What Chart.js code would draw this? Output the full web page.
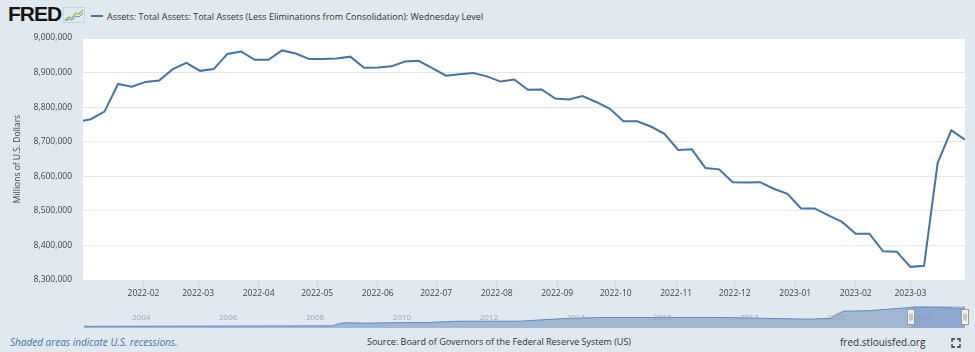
<!DOCTYPE html>
<html>
<head>
<meta charset="utf-8">
<script src="https://cdn.jsdelivr.net/npm/chart.js@4.4.1/dist/chart.umd.min.js"></script>
<style>
  html, body { margin: 0; padding: 0; background: #e1e9f0; }
  body { width: 975px; height: 352px; position: relative; overflow: hidden; font-family: "Open Sans", sans-serif; }
  #main { position: absolute; left: 0; top: 0; }
  #nav { position: absolute; left: 0; top: 300px; }
  .logo { position: absolute; left: 8px; top: 3px; font: bold 21px/21px "Liberation Sans", Arial, sans-serif; letter-spacing: -1px; color: #151515; }
  .logo-icon { position: absolute; left: 63px; top: 7px; }
  .legend { position: absolute; left: 91px; top: 9px; height: 14px; display: flex; align-items: center; font-size: 9px; color: #333; white-space: nowrap; }
  .legend i { display: inline-block; width: 12px; height: 2px; background: #4572a7; margin-right: 4px; }
  .foot { position: absolute; top: 335px; font-size: 9px; line-height: 14px; color: #333; white-space: nowrap; }
  .foot.left { left: 10px; font-size: 10px; font-style: italic; color: #4572a7; }
  .foot.mid { left: 367px; }
  .foot.right { left: 840px; font-size: 10px; }
  .fs { position: absolute; left: 951px; top: 338px; }
</style>
</head>
<body>
<div class="logo">FRED</div>
<svg class="logo-icon" width="22" height="16" viewBox="0 0 22 16">
  <rect x="0.5" y="0.5" width="21" height="15" fill="none" stroke="#c9d3dc"/>
  <polyline points="2,13 6,10 9,11 13,6 16,7 20,3" fill="none" stroke="#8cbf4d" stroke-width="1.3"/>
  <polyline points="2,14 6,12 9,13 13,9 16,10 20,6" fill="none" stroke="#6b8fc2" stroke-width="1"/>
</svg>
<div class="legend"><i></i>Assets: Total Assets: Total Assets (Less Eliminations from Consolidation): Wednesday Level</div>
<canvas id="main" width="975" height="300"></canvas>
<canvas id="nav" width="975" height="34"></canvas>
<div class="foot left">Shaded areas indicate U.S. recessions.</div>
<div class="foot mid">Source: Board of Governors of the Federal Reserve System (US)</div>
<div class="foot right">fred.stlouisfed.org</div>
<svg class="fs" width="10" height="10" viewBox="0 0 10 10">
  <path d="M1 4V1h3M6 1h3v3M9 6v3H6M4 9H1V6" fill="none" stroke="#333" stroke-width="1.3"/>
</svg>
<script>
// weekly values, millions of dollars
const dates = [
  "2021-12-29",
  "2022-01-05", "2022-01-12", "2022-01-19", "2022-01-26",
  "2022-02-02", "2022-02-09", "2022-02-16", "2022-02-23",
  "2022-03-02", "2022-03-09", "2022-03-16", "2022-03-23", "2022-03-30",
  "2022-04-06", "2022-04-13", "2022-04-20", "2022-04-27",
  "2022-05-04", "2022-05-11", "2022-05-18", "2022-05-25",
  "2022-06-01", "2022-06-08", "2022-06-15", "2022-06-22", "2022-06-29",
  "2022-07-06", "2022-07-13", "2022-07-20", "2022-07-27",
  "2022-08-03", "2022-08-10", "2022-08-17", "2022-08-24", "2022-08-31",
  "2022-09-07", "2022-09-14", "2022-09-21", "2022-09-28",
  "2022-10-05", "2022-10-12", "2022-10-19", "2022-10-26",
  "2022-11-02", "2022-11-09", "2022-11-16", "2022-11-23", "2022-11-30",
  "2022-12-07", "2022-12-14", "2022-12-21", "2022-12-28",
  "2023-01-04", "2023-01-11", "2023-01-18", "2023-01-25",
  "2023-02-01", "2023-02-08", "2023-02-15", "2023-02-22",
  "2023-03-01", "2023-03-08", "2023-03-15", "2023-03-22", "2023-03-29"
];
const assets = [
  8757000,
  8765000, 8787000, 8867000, 8859000,
  8873000, 8877000, 8910000, 8928000,
  8905000, 8910000, 8954000, 8961000, 8937000,
  8937000, 8964000, 8955000, 8939000,
  8939000, 8941000, 8946000, 8914000,
  8915000, 8918000, 8932000, 8934000, 8913000,
  8891000, 8895000, 8899000, 8889000,
  8874000, 8880000, 8850000, 8851000, 8825000,
  8822000, 8832000, 8815000, 8795000,
  8759000, 8759000, 8744000, 8723000,
  8676000, 8678000, 8624000, 8620000, 8583000,
  8582000, 8583000, 8564000, 8549000,
  8507000, 8507000, 8487000, 8468000,
  8434000, 8434000, 8383000, 8382000,
  8338000, 8341000, 8639000, 8733000, 8706000
];
const monthTicks = ["2022-02", "2022-03", "2022-04", "2022-05", "2022-06", "2022-07", "2022-08",
  "2022-09", "2022-10", "2022-11", "2022-12", "2023-01", "2023-02", "2023-03"];
const yTicks = [8300000, 8400000, 8500000, 8600000, 8700000, 8800000, 8900000, 9000000];

// longer history for the navigator strip (coarse)
const navDates = ["2002-12-18", "2005-01-05", "2007-08-01", "2008-09-10", "2008-10-01", "2008-12-17",
  "2009-06-03", "2009-12-30", "2010-11-03", "2011-06-29", "2012-12-26", "2013-12-25", "2014-10-29",
  "2017-10-04", "2019-08-28", "2020-02-26", "2020-03-25", "2020-06-10", "2020-12-30", "2021-06-30"];
const navValues = [720000, 790000, 870000, 930000, 1490000, 2260000,
  2070000, 2240000, 2300000, 2870000, 2910000, 4020000, 4490000,
  4460000, 3760000, 4160000, 5250000, 7170000, 7360000, 8060000];
const navYears = ["2004", "2006", "2008", "2010", "2012", "2014", "2016", "2018", "2020", "2022"];

const toMs = (s) => { const p = s.split("-").map(Number); return Date.UTC(p[0], (p[1] || 1) - 1, p[2] || 1); };
const fmtMonth = (v) => { const d = new Date(v); return d.getUTCFullYear() + "-" + String(d.getUTCMonth() + 1).padStart(2, "0"); };

Chart.defaults.font.family = '"Open Sans", sans-serif';
Chart.defaults.color = "#444";

const plotBg = {
  id: "plotBg",
  beforeDraw(chart) {
    const a = chart.chartArea, ctx = chart.ctx;
    ctx.save();
    ctx.fillStyle = "#ffffff";
    ctx.fillRect(a.left, a.top, a.right - a.left, a.bottom - a.top);
    ctx.restore();
  }
};

new Chart(document.getElementById("main"), {
  type: "line",
  data: {
    datasets: [{
      data: dates.map((d, i) => ({ x: toMs(d), y: assets[i] })),
      borderColor: "#4572a7",
      borderWidth: 2,
      pointRadius: 0,
      tension: 0,
      fill: false
    }]
  },
  options: {
    responsive: false,
    animation: false,
    devicePixelRatio: 1,
    layout: { padding: { top: 38, right: 10, left: 0, bottom: 0 } },
    plugins: { legend: { display: false }, tooltip: { enabled: false } },
    scales: {
      x: {
        type: "linear",
        min: toMs("2022-01-01"),
        max: toMs("2023-03-29"),
        afterBuildTicks: (s) => { s.ticks = monthTicks.map(m => ({ value: toMs(m) })); },
        afterFit: (s) => { s.height = 20; },
        border: { display: false },
        grid: { drawOnChartArea: false, color: "#ccd6eb", tickLength: 8 },
        ticks: { autoSkip: false, maxRotation: 0, padding: 0, font: { size: 8.5 }, color: "#444", callback: (v) => fmtMonth(v) }
      },
      y: {
        min: 8300000,
        max: 9000000,
        afterBuildTicks: (s) => { s.ticks = yTicks.map(v => ({ value: v })); },
        afterFit: (s) => { s.width = 83; },
        border: { display: false },
        grid: { color: "#e6e6e6", drawTicks: false },
        ticks: { padding: 11, font: { size: 8.5 }, color: "#444", callback: (v) => v.toLocaleString("en-US") },
        title: { display: true, text: "Millions of U.S. Dollars", font: { size: 8.5 }, color: "#444", padding: { top: 12, bottom: 0 } }
      }
    }
  },
  plugins: [plotBg]
});

const navSeries = navDates.map((d, i) => ({ x: toMs(d), y: navValues[i] }))
  .concat(dates.map((d, i) => ({ x: toMs(d), y: assets[i] })));

// year labels, selected range mask and its two handles
const navExtras = {
  id: "navExtras",
  afterDatasetsDraw(chart) {
    const a = chart.chartArea, ctx = chart.ctx, xs = chart.scales.x;
    ctx.save();
    ctx.font = '8px "Open Sans", sans-serif';
    ctx.fillStyle = "#9aa6b8";
    ctx.textBaseline = "middle";
    navYears.forEach(y => ctx.fillText(y, xs.getPixelForValue(toMs(y)) + 3, a.top + 12));

    const x0 = xs.getPixelForValue(toMs("2022-01-01"));
    const x1 = xs.getPixelForValue(toMs("2023-03-29"));
    ctx.fillStyle = "rgba(102,133,194,0.3)";
    ctx.fillRect(x0, a.top, x1 - x0, a.bottom - a.top);
    [x0, x1].forEach(x => {
      const hx = Math.round(x) - 3.5, hy = Math.round((a.top + a.bottom) / 2) - 7.5;
      ctx.fillStyle = "#f2f2f2";
      ctx.strokeStyle = "#999";
      ctx.lineWidth = 1;
      ctx.fillRect(hx, hy, 7, 15);
      ctx.strokeRect(hx, hy, 7, 15);
      ctx.beginPath();
      ctx.moveTo(hx + 2.5, hy + 4); ctx.lineTo(hx + 2.5, hy + 11);
      ctx.moveTo(hx + 4.5, hy + 4); ctx.lineTo(hx + 4.5, hy + 11);
      ctx.stroke();
    });
    ctx.restore();
  }
};

new Chart(document.getElementById("nav"), {
  type: "line",
  data: {
    datasets: [{
      data: navSeries,
      borderColor: "#6685c2",
      borderWidth: 1,
      backgroundColor: "rgba(69,114,167,0.42)",
      fill: "origin",
      pointRadius: 0,
      tension: 0
    }]
  },
  options: {
    responsive: false,
    animation: false,
    devicePixelRatio: 1,
    layout: { padding: { top: 6, right: 10, left: 84, bottom: 6 } },
    plugins: { legend: { display: false }, tooltip: { enabled: false } },
    scales: {
      x: { type: "linear", display: false, min: toMs("2002-12-18"), max: toMs("2023-03-29") },
      y: { display: false, min: 0, max: 9400000 }
    }
  },
  plugins: [navExtras]
});
</script>
</body>
</html>
